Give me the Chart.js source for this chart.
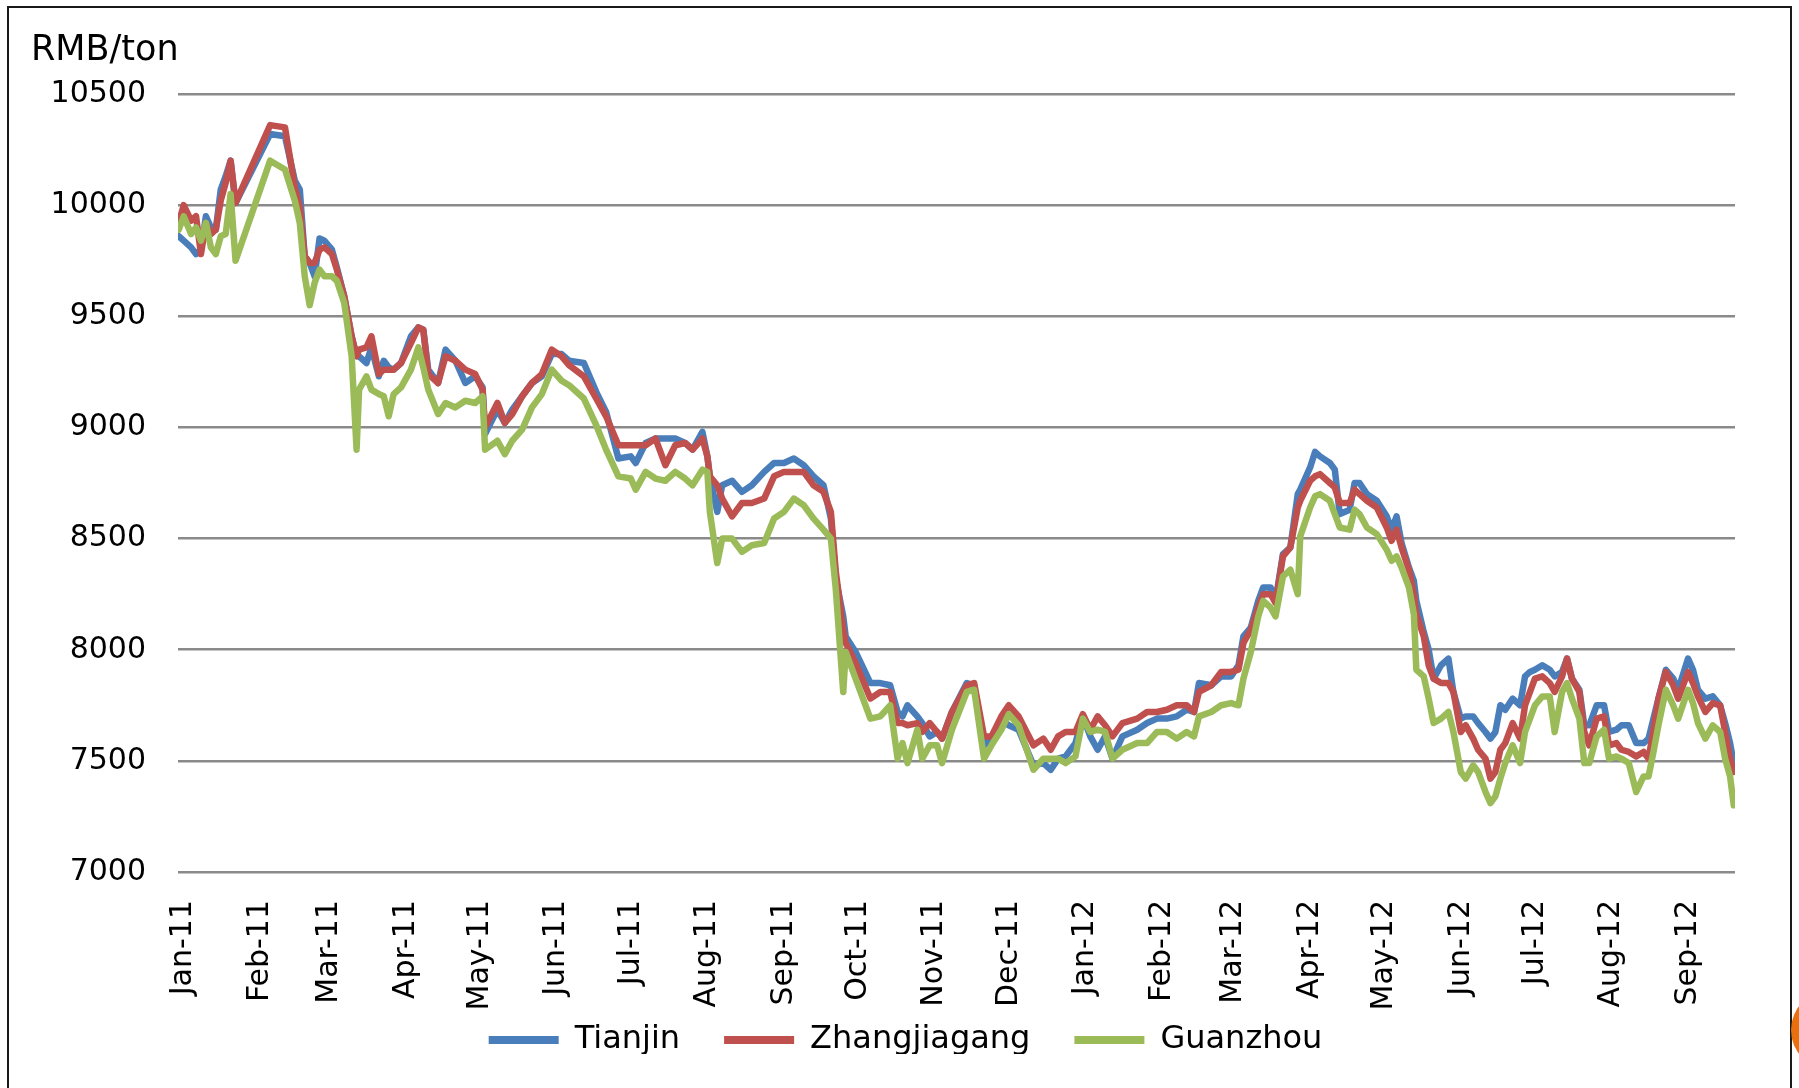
<!DOCTYPE html>
<html lang="en">
<head>
<meta charset="UTF-8">
<title>Steel prices, RMB/ton</title>
<script src="https://cdn.jsdelivr.net/npm/chart.js"></script>
<style>
  html, body { margin: 0; padding: 0; background: #fff; overflow: hidden; }
  #wrap { position: relative; width: 1799px; height: 1088px; }
  #frame {
    position: absolute; left: 7px; top: 6px;
    width: 1781px; height: 1100px;
    border: 2px solid #1a1a1a;
  }
  #unit {
    position: absolute; left: 31px; top: 31px;
    font-family: "DejaVu Sans", sans-serif; font-size: 35px; line-height: 1;
    color: #000;
  }
  #dot {
    position: absolute; left: 1791px; top: 990px;
    width: 80px; height: 80px; border-radius: 50%;
    background: #e8700e;
  }
  canvas { position: absolute; left: 0; top: 0; }
</style>
</head>
<body>
<div id="wrap">
  <div id="frame"></div>
  <canvas id="priceChart" width="1799" height="1088"></canvas>
  <div id="unit">RMB/ton</div>
  <div id="dot"></div>
</div>

<script>
// days counted from 1 Jan 2011
const days = [
  -2, 0, 3, 5, 7, 9, 11, 13, 15, 17,
  19, 21, 35, 41, 45, 47, 49, 51, 53, 55,
  57, 60, 62, 65, 68, 70, 71, 74, 76, 79,
  81, 83, 85, 88, 92, 95, 97, 99, 103, 106,
  110, 114, 118, 121, 122, 127, 130, 133, 137, 141,
  145, 149, 153,
  156, 162, 167, 171, 176, 181, 183, 187, 191, 195,
  199, 203, 206, 210, 212, 213, 216, 218, 222, 226,
  230, 235, 239, 243, 247, 251, 255, 259, 262, 264,
  267, 268, 272, 278, 282, 286, 289, 291, 293, 297,
  299, 302, 305, 307, 311, 317,
  320, 324, 327, 331, 334, 338, 344, 348, 351, 354,
  357, 361, 364, 367, 370, 373, 376, 380, 386, 390,
  394, 398, 402, 406, 409, 411, 416, 420, 424, 427,
  429, 432, 435, 437, 440, 442, 445, 448, 451, 452,
  456, 458, 460, 464, 466, 468, 472, 474,
  476, 479, 483, 487, 489, 491, 493, 496, 498, 499,
  502, 504, 506, 509, 512, 514, 517, 519, 522, 524,
  527, 529, 531, 533, 535, 538, 541, 543, 545, 547,
  550, 553, 555, 558, 560, 562, 565, 567, 569, 572,
  575, 577, 580, 582, 585, 588, 591, 593, 595, 597,
  600, 603, 605, 609, 611, 613, 616, 619, 622, 624,
  626, 627.5
];

const tianjin = [
  9860, 9840, 9810, 9780, 9800, 9950, 9900, 9890, 10070, 10130,
  10200, 10010, 10320, 10310, 10110, 10070, 9770, 9740, 9680, 9850,
  9840, 9800, 9720, 9590, 9410, 9320, 9320, 9290, 9360, 9230,
  9300, 9270, 9260, 9290, 9410, 9450, 9440, 9260, 9200, 9350,
  9300, 9200, 9230, 9180, 8970, 9080, 9020, 9080, 9140, 9200,
  9230, 9330, 9330,
  9300, 9290, 9160, 9070, 8860, 8870, 8840, 8930, 8950, 8950,
  8950, 8930, 8900, 8980, 8870, 8780, 8620, 8740, 8760, 8710,
  8740, 8800, 8840, 8840, 8860, 8830, 8780, 8740, 8590, 8320,
  8150, 8060, 7990, 7850, 7850, 7840, 7720, 7700, 7750, 7700,
  7670, 7610, 7630, 7600, 7720, 7850,
  7840, 7570, 7600, 7690, 7660, 7640, 7480, 7490, 7460, 7510,
  7520, 7580, 7700, 7610, 7550, 7610, 7510, 7610, 7640, 7670,
  7690, 7690, 7700, 7730, 7720, 7850, 7840, 7880, 7880, 7930,
  8060, 8100, 8220, 8280, 8280, 8220, 8430, 8460, 8700, 8720,
  8820, 8890, 8870, 8840, 8810, 8610, 8630, 8750,
  8750, 8700, 8670, 8600, 8540, 8600, 8480, 8370, 8310, 8220,
  8080, 8000, 7870, 7930, 7960, 7810, 7690, 7700, 7700, 7670,
  7630, 7600, 7630, 7750, 7730, 7780, 7750, 7880, 7900, 7910,
  7930, 7910, 7880, 7900, 7960, 7870, 7820, 7660, 7660, 7750,
  7750, 7630, 7640, 7660, 7660, 7580, 7580, 7600, 7690, 7780,
  7910, 7870, 7820, 7960, 7910, 7820, 7780, 7790, 7750, 7670,
  7580, 7490
];

const zhangjiagang = [
  9920, 10000, 9930, 9950, 9780, 9920, 9870, 9890, 10020, 10100,
  10200, 10010, 10360, 10350, 10080, 9990, 9770, 9740, 9740, 9800,
  9810, 9780, 9710, 9590, 9410, 9320, 9350, 9360, 9410, 9240,
  9260, 9260, 9260, 9290, 9380, 9450, 9440, 9240, 9200, 9320,
  9300, 9260, 9240, 9170, 9000, 9110, 9020, 9060, 9140, 9200,
  9240, 9350, 9320,
  9280, 9230, 9130, 9050, 8920, 8920, 8920, 8920, 8950, 8830,
  8920, 8930, 8900, 8950, 8870, 8780, 8740, 8680, 8600, 8660,
  8660, 8680, 8780, 8800, 8800, 8800, 8740, 8710, 8620, 8350,
  8090, 8030, 7940, 7780, 7810, 7810, 7670, 7670, 7660, 7670,
  7630, 7670, 7630, 7600, 7720, 7840,
  7850, 7610, 7610, 7700, 7750, 7700, 7570, 7600, 7550, 7610,
  7630, 7630, 7710, 7640, 7700, 7660, 7610, 7670, 7690, 7720,
  7720, 7730, 7750, 7750, 7720, 7810, 7840, 7900, 7900, 7910,
  8030, 8090, 8190, 8250, 8250, 8210, 8420, 8460, 8640, 8670,
  8760, 8780, 8790, 8750, 8730, 8660, 8660, 8720,
  8700, 8670, 8640, 8550, 8490, 8540, 8460, 8360, 8250, 8160,
  8060, 7930, 7870, 7850, 7850, 7810, 7630, 7660, 7600, 7550,
  7510, 7420, 7450, 7550, 7580, 7670, 7600, 7750, 7810, 7870,
  7880, 7850, 7810, 7880, 7960, 7870, 7810, 7630, 7570, 7690,
  7700, 7570, 7580, 7550, 7540, 7520, 7540, 7510, 7640, 7780,
  7900, 7840, 7780, 7900, 7850, 7790, 7720, 7760, 7750, 7630,
  7510, 7450
];

const guanzhou = [
  9890, 9950, 9870, 9900, 9840, 9920, 9810, 9780, 9860, 9870,
  10050, 9750, 10200, 10160, 10020, 9920, 9680, 9550, 9650, 9710,
  9680, 9680, 9660, 9560, 9320, 8900, 9170, 9230, 9170, 9150,
  9140, 9050, 9150, 9180, 9260, 9360, 9270, 9170, 9060, 9110,
  9090, 9120, 9110, 9140, 8900, 8940, 8880, 8940, 8990, 9090,
  9150, 9260, 9210,
  9190, 9130, 9010, 8900, 8780, 8770, 8720, 8800, 8770, 8760,
  8800, 8770, 8740, 8810, 8800, 8620, 8390, 8500, 8500, 8440,
  8470, 8480, 8590, 8620, 8680, 8650, 8590, 8540, 8500, 8270,
  7810, 7990, 7870, 7690, 7700, 7750, 7510, 7580, 7490, 7640,
  7510, 7570, 7570, 7490, 7640, 7810,
  7820, 7510, 7570, 7640, 7710, 7660, 7460, 7510, 7510, 7510,
  7490, 7520, 7690, 7630, 7640, 7630, 7510, 7550, 7580, 7580,
  7630, 7630, 7600, 7630, 7610, 7700, 7720, 7750, 7760, 7750,
  7870, 7990, 8150, 8220, 8190, 8150, 8330, 8360, 8250, 8510,
  8640, 8690, 8700, 8670, 8610, 8550, 8540, 8630,
  8610, 8550, 8520, 8450, 8400, 8420, 8370, 8280, 8160, 7910,
  7880, 7780, 7670, 7690, 7720, 7630, 7450, 7420, 7480, 7450,
  7360, 7310, 7340, 7420, 7490, 7570, 7490, 7630, 7690, 7750,
  7790, 7790, 7630, 7810, 7850, 7780, 7690, 7490, 7490, 7610,
  7640, 7510, 7520, 7510, 7490, 7360, 7430, 7430, 7540, 7660,
  7820, 7750, 7690, 7820, 7760, 7670, 7600, 7660, 7630, 7510,
  7430, 7300
];

// month starts (days from 1 Jan 2011) and their labels
const monthDays = [0, 31, 59, 90, 120, 151, 181, 212, 243, 273, 304, 334,
                   365, 396, 425, 456, 486, 517, 547, 578, 609];
const monthLabels = ['Jan-11', 'Feb-11', 'Mar-11', 'Apr-11', 'May-11', 'Jun-11',
                     'Jul-11', 'Aug-11', 'Sep-11', 'Oct-11', 'Nov-11', 'Dec-11',
                     'Jan-12', 'Feb-12', 'Mar-12', 'Apr-12', 'May-12', 'Jun-12',
                     'Jul-12', 'Aug-12', 'Sep-12'];
const yTicks = [7000, 7500, 8000, 8500, 9000, 9500, 10000, 10500];

function toPoints(values) {
  return days.map(function (d, i) { return { x: d, y: values[i] }; });
}

Chart.defaults.font.family = '"DejaVu Sans", sans-serif';
Chart.defaults.color = '#000';

const lineStyle = {
  borderWidth: 6.5,
  pointRadius: 0,
  tension: 0,
  borderJoinStyle: 'round',
  borderCapStyle: 'round',
  fill: false
};

// the legend box sits right under the (tall) x axis; lift it up a bit
// and nudge it right so it centres like the original
const legendLift = {
  id: 'legendLift',
  afterLayout: function (chart) {
    const lg = chart.legend;
    lg.top -= 34;
    lg.bottom -= 34;
    lg.left += 38;
    lg.right += 38;
  }
};

new Chart(document.getElementById('priceChart'), {
  type: 'line',
  data: {
    datasets: [
      Object.assign({ label: 'Tianjin', data: toPoints(tianjin), borderColor: '#4a7ebb', backgroundColor: '#4a7ebb', order: 3 }, lineStyle),
      Object.assign({ label: 'Zhangjiagang', data: toPoints(zhangjiagang), borderColor: '#c0504d', backgroundColor: '#c0504d', order: 2 }, lineStyle),
      Object.assign({ label: 'Guanzhou', data: toPoints(guanzhou), borderColor: '#9bbb59', backgroundColor: '#9bbb59', order: 1 }, lineStyle)
    ]
  },
  plugins: [legendLift],
  options: {
    responsive: false,
    animation: false,
    layout: { padding: { left: 0, right: 64, top: 94, bottom: 0 } },
    scales: {
      x: {
        type: 'linear',
        min: -2.3,
        max: 628,
        grid: { display: false, drawTicks: false },
        border: { display: false },
        afterBuildTicks: function (axis) {
          axis.ticks = monthDays.map(function (d) { return { value: d }; });
        },
        afterFit: function (axis) { axis.height = 142; },
        ticks: {
          autoSkip: false,
          minRotation: 90,
          maxRotation: 90,
          padding: 28,
          font: { size: 30 },
          callback: function (value, index) { return monthLabels[index]; }
        }
      },
      y: {
        min: 7000,
        max: 10500,
        grid: { color: '#8a8a8a', lineWidth: 2.5, drawTicks: false },
        border: { display: false },
        afterBuildTicks: function (axis) {
          axis.ticks = yTicks.map(function (v) { return { value: v }; });
        },
        afterFit: function (axis) { axis.width = 178; },
        ticks: {
          padding: 32,
          font: { size: 30 },
          callback: function (value) { return String(value); }
        }
      }
    },
    plugins: {
      tooltip: { enabled: false },
      title: { display: false },
      legend: {
        position: 'bottom',
        maxHeight: 74,
        labels: {
          usePointStyle: true,
          pointStyle: 'line',
          pointStyleWidth: 70,
          padding: 44,
          font: { size: 32 },
          color: '#000',
          generateLabels: function (chart) {
            const items = Chart.defaults.plugins.legend.labels.generateLabels(chart);
            items.forEach(function (it) { it.lineWidth = 8; it.pointStyle = 'line'; });
            return items;
          },
          sort: function (a, b) { return a.datasetIndex - b.datasetIndex; }
        }
      }
    }
  }
});
</script>
</body>
</html>
